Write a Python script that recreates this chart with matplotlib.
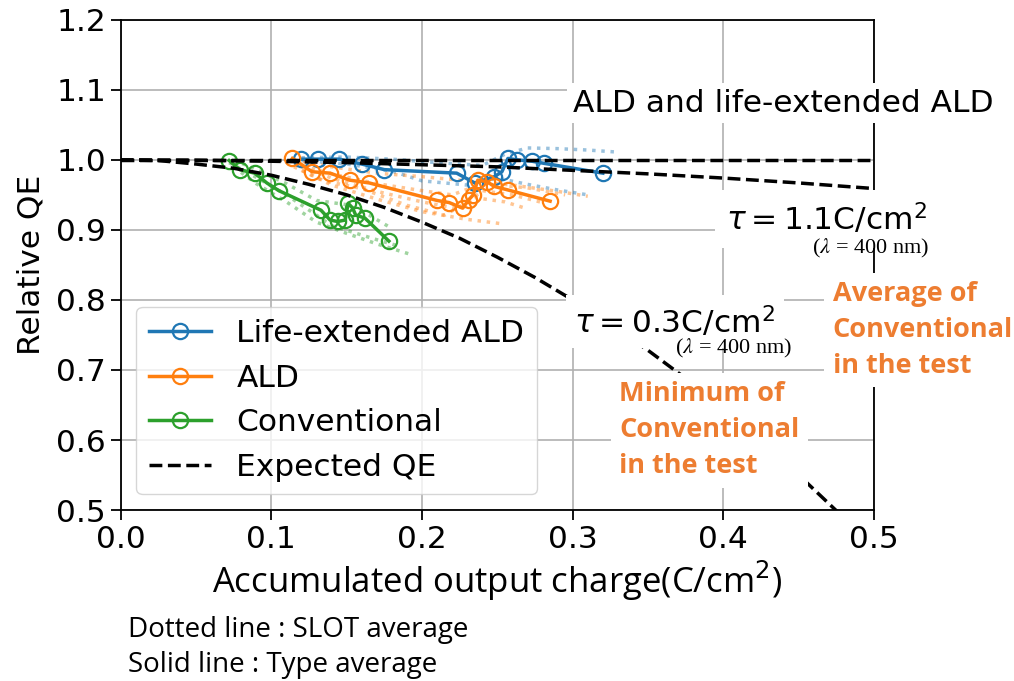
import matplotlib
matplotlib.use("Agg")
import matplotlib.pyplot as plt

# ---- type averages (solid lines) ----
life_x = [0.120, 0.131, 0.145, 0.160, 0.175, 0.223, 0.235, 0.248, 0.253, 0.257, 0.263, 0.273, 0.281, 0.320]
life_y = [1.001, 1.001, 1.001, 0.994, 0.986, 0.981, 0.967, 0.976, 0.983, 1.002, 1.000, 0.998, 0.995, 0.981]

ald_x = [0.114, 0.127, 0.139, 0.152, 0.165, 0.210, 0.218, 0.227, 0.231, 0.234, 0.237, 0.243, 0.248, 0.257, 0.285]
ald_y = [1.002, 0.983, 0.981, 0.971, 0.967, 0.942, 0.939, 0.931, 0.943, 0.950, 0.971, 0.969, 0.962, 0.957, 0.941]

conv_x = [0.072, 0.079, 0.089, 0.097, 0.105, 0.133, 0.139, 0.144, 0.149, 0.151, 0.154, 0.156, 0.162, 0.178]
conv_y = [0.999, 0.986, 0.981, 0.967, 0.956, 0.928, 0.914, 0.912, 0.914, 0.938, 0.931, 0.921, 0.917, 0.884]

# ---- slot averages (dotted lines) ----
life_slots = [
    ([0.120, 0.150, 0.180, 0.210, 0.240, 0.255, 0.270, 0.290, 0.310, 0.330],
     [1.003, 1.004, 1.001, 0.996, 0.992, 1.008, 1.017, 1.016, 1.014, 1.011]),
    ([0.120, 0.150, 0.180, 0.200, 0.230, 0.250, 0.270, 0.290, 0.310],
     [0.999, 0.994, 0.984, 0.970, 0.964, 0.974, 0.965, 0.957, 0.950]),
]
ald_slots = [
    ([0.115, 0.140, 0.170, 0.200, 0.230, 0.260, 0.290, 0.310],
     [1.000, 0.990, 0.981, 0.976, 0.970, 0.964, 0.955, 0.948]),
    ([0.115, 0.140, 0.170, 0.200, 0.220, 0.240, 0.270, 0.295],
     [0.995, 0.980, 0.966, 0.956, 0.950, 0.966, 0.960, 0.950]),
    ([0.120, 0.140, 0.170, 0.200, 0.225, 0.240, 0.260, 0.280],
     [0.990, 0.974, 0.955, 0.940, 0.930, 0.956, 0.950, 0.939]),
    ([0.120, 0.140, 0.170, 0.200, 0.230, 0.252],
     [0.985, 0.964, 0.944, 0.926, 0.915, 0.909]),
    ([0.115, 0.135, 0.160, 0.190, 0.215, 0.235, 0.255, 0.270],
     [0.990, 0.970, 0.959, 0.935, 0.921, 0.946, 0.940, 0.930]),
]
conv_slots = [
    ([0.075, 0.090, 0.110, 0.130, 0.150, 0.170, 0.194],
     [0.990, 0.966, 0.940, 0.911, 0.895, 0.880, 0.864]),
    ([0.075, 0.090, 0.110, 0.130, 0.150, 0.165, 0.180],
     [1.000, 0.986, 0.966, 0.942, 0.936, 0.921, 0.902]),
    ([0.072, 0.090, 0.110, 0.130, 0.140, 0.155, 0.170, 0.186],
     [0.996, 0.975, 0.950, 0.921, 0.906, 0.896, 0.886, 0.876]),
]

# ---- expected QE curves ----
flat_x = [0.0, 0.5]
flat_y = [1.0, 1.0]
tau11_x = [0.00, 0.05, 0.10, 0.15, 0.20, 0.25, 0.30, 0.35, 0.40, 0.45, 0.50]
tau11_y = [1.000, 0.9996, 0.998, 0.996, 0.993, 0.990, 0.985, 0.980, 0.974, 0.967, 0.959]
tau03_x = [0.000, 0.025, 0.050, 0.075, 0.100, 0.125, 0.150, 0.175, 0.200, 0.225,
           0.250, 0.275, 0.300, 0.325, 0.350, 0.375, 0.400, 0.425, 0.450, 0.475, 0.500]
tau03_y = [1.000, 0.999, 0.994, 0.988, 0.978, 0.965, 0.950, 0.932, 0.911, 0.888,
           0.861, 0.832, 0.800, 0.765, 0.728, 0.688, 0.644, 0.599, 0.550, 0.499, 0.444]

x_ticks = [0.0, 0.1, 0.2, 0.3, 0.4, 0.5]
y_ticks = [0.5, 0.6, 0.7, 0.8, 0.9, 1.0, 1.1, 1.2]

BLUE, ORANGE, GREEN = "#1f77b4", "#ff7f0e", "#2ca02c"
NOTE = "#ED7D31"
FS = 22.5

plt.rcParams["font.family"] = ["DejaVu Sans"]
fig = plt.figure(figsize=(10.14, 6.81), dpi=100)
ax = fig.add_axes([0.119, 0.251, 0.743, 0.720])

# dotted slot averages
for color, slots in ((BLUE, life_slots), (ORANGE, ald_slots), (GREEN, conv_slots)):
    for sx, sy in slots:
        ax.plot(sx, sy, ls=":", lw=2.5, color=color, alpha=0.45, zorder=2)

# solid type averages
mk = dict(marker="o", ms=11, mfc="none", mew=1.6, lw=2.5, zorder=3)
ax.plot(life_x, life_y, color=BLUE, label="Life-extended ALD", **mk)
ax.plot(ald_x, ald_y, color=ORANGE, label="ALD", **mk)
ax.plot(conv_x, conv_y, color=GREEN, label="Conventional", **mk)

# expected curves
dash = dict(ls="--", lw=2.5, color="black", zorder=4)
ax.plot(flat_x, flat_y, label="Expected QE", **dash)
ax.plot(tau11_x, tau11_y, **dash)
ax.plot(tau03_x, tau03_y, **dash)

ax.set_xlim(0, 0.5)
ax.set_ylim(0.5, 1.2)
ax.set_xticks(x_ticks)
ax.set_yticks(y_ticks)
ax.set_xticklabels([f"{v:.1f}" for v in x_ticks])
ax.set_yticklabels([f"{v:.1f}" for v in y_ticks])
ax.tick_params(labelsize=FS, length=7, width=1.3)
ax.grid(True, color="#b0b0b0", lw=1.2)
ax.set_axisbelow(True)
for s in ax.spines.values():
    s.set_linewidth(1.3)

ax.set_ylabel("Relative QE", fontsize=FS, labelpad=8)
ax.set_xlabel("Accumulated output charge(C/cm$^2$)", fontsize=25,
              fontfamily="Open Sans", labelpad=4)

ax.legend(loc="lower left", fontsize=FS, framealpha=0.8)

box = dict(facecolor="white", edgecolor="none", pad=4)
ax.text(0.300, 1.081, "ALD and life-extended ALD", fontsize=FS, ha="left", va="center",
        bbox=box, zorder=10, clip_on=False)
ax.text(0.402, 0.916, r"$\tau = 1.1$C/cm$^2$", fontsize=FS, ha="left", va="center",
        bbox=dict(facecolor="white", edgecolor="none", pad=8), zorder=10, clip_on=False)
ax.text(0.4586, 0.873, r"($\lambda$ = 400 nm)", fontsize=16, ha="left", va="center",
        fontfamily="Liberation Serif", math_fontfamily="stix", zorder=11, clip_on=False)
ax.text(0.301, 0.769, r"$\tau = 0.3$C/cm$^2$", fontsize=FS, ha="left", va="center",
        bbox=dict(facecolor="white", edgecolor="none", pad=6), zorder=10, clip_on=False)
ax.text(0.3677, 0.730, r"($\lambda$ = 400 nm)", fontsize=16, ha="left", va="center",
        fontfamily="Liberation Serif", math_fontfamily="stix", zorder=11, clip_on=False)

note = dict(fontsize=19.5, fontweight="bold", color=NOTE, fontfamily="Open Sans",
            ha="left", va="center", linespacing=1.5, zorder=12, clip_on=False,
            bbox=dict(facecolor="white", edgecolor="none", pad=6))
ax.text(0.331, 0.614, "Minimum of\nConventional\nin the test", **note)
ax.text(0.4725, 0.757, "Average of\nConventional\nin the test", **note)

fig.text(0.126, 0.075, "Dotted line : SLOT average", fontsize=20,
         fontfamily="Open Sans", ha="left", va="center")
fig.text(0.126, 0.0235, "Solid line : Type average", fontsize=20,
         fontfamily="Open Sans", ha="left", va="center")

fig.savefig("out.png", dpi=100)
